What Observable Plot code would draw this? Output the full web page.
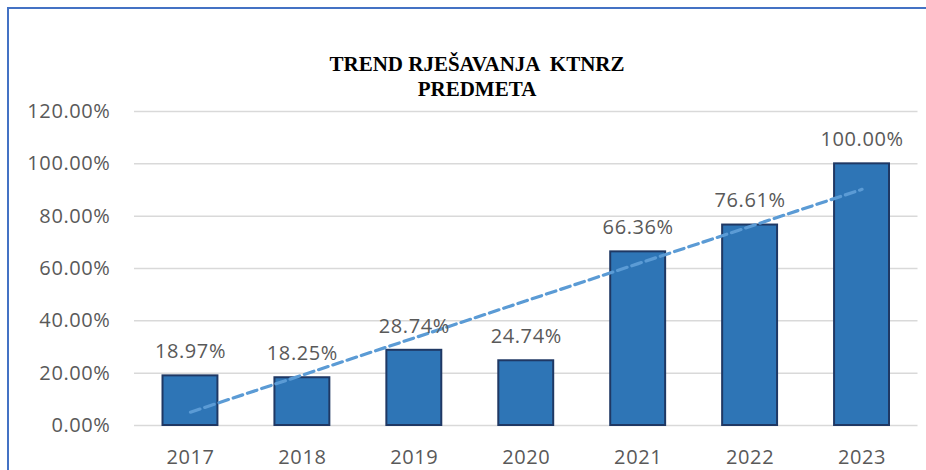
<!DOCTYPE html>
<html>
<head>
<meta charset="utf-8">
<script src="https://cdn.jsdelivr.net/npm/d3@7"></script>
<script src="https://cdn.jsdelivr.net/npm/@observablehq/plot@0.6"></script>
<style>
  html, body { margin: 0; padding: 0; background: #fff; overflow: hidden; width: 926px; height: 470px; }
  #frame { position: absolute; left: 7px; top: 7px; width: 1200px; height: 1200px;
           border-left: 2px solid #4472C4; border-top: 2px solid #4472C4; }
  #title { position: absolute; left: 477px; top: 52px; transform: translateX(-50%);
           font-family: "Liberation Serif", "Times New Roman", serif; font-weight: bold;
           font-size: 21px; line-height: 25px; text-align: center; color: #000; white-space: pre; }
  #chart { position: absolute; left: 0; top: 0; }
  #chart svg text { letter-spacing: 0.6px; }
</style>
</head>
<body>
<div id="frame"></div>
<div id="chart"></div>
<div id="title">TREND RJEŠAVANJA  KTNRZ
PREDMETA</div>
<script>
const years = ["2017", "2018", "2019", "2020", "2021", "2022", "2023"];
const values = [18.97, 18.25, 28.74, 24.74, 66.36, 76.61, 100.00];
const yTicks = [0, 20, 40, 60, 80, 100, 120];

const data = years.map((year, i) => ({year, value: values[i]}));

// Linear trendline (least squares) derived from the data
const n = values.length;
const mx = (n - 1) / 2;
const my = d3.mean(values);
const slope = d3.sum(values, (v, i) => (i - mx) * (v - my)) / d3.sum(values, (v, i) => (i - mx) ** 2);
const intercept = my - slope * mx;
const trend = years.map((year, i) => ({year, t: intercept + slope * i}));

const chart = Plot.plot({
  width: 926,
  height: 470,
  marginLeft: 134,
  marginRight: 8.5,
  marginTop: 111,
  marginBottom: 45,
  style: {fontFamily: "'Open Sans', sans-serif", fontSize: "20px", color: "#595959", background: "transparent"},
  x: {domain: years, padding: 0, round: false, label: null, tickSize: 0, tickPadding: 24},
  y: {domain: [0, 120], ticks: yTicks, tickFormat: d => d.toFixed(2) + "%", label: null, tickSize: 0, tickPadding: 24},
  marks: [
    Plot.ruleY(yTicks, {stroke: "#D9D9D9", strokeWidth: 1.5}),
    Plot.barY(data, {x: "year", y: "value", fill: "#2E75B6", stroke: "#1F3864", strokeWidth: 2, insetLeft: 28.5, insetRight: 28.5}),
    Plot.line(trend, {x: "year", y: "t", stroke: "#5B9BD5", strokeWidth: 3.2, strokeDasharray: "10,5"}),
    Plot.text(data, {x: "year", y: "value", text: d => d.value.toFixed(2) + "%", dy: -24, fill: "#595959", fontSize: 20})
  ]
});
document.getElementById("chart").appendChild(chart);
</script>
</body>
</html>
